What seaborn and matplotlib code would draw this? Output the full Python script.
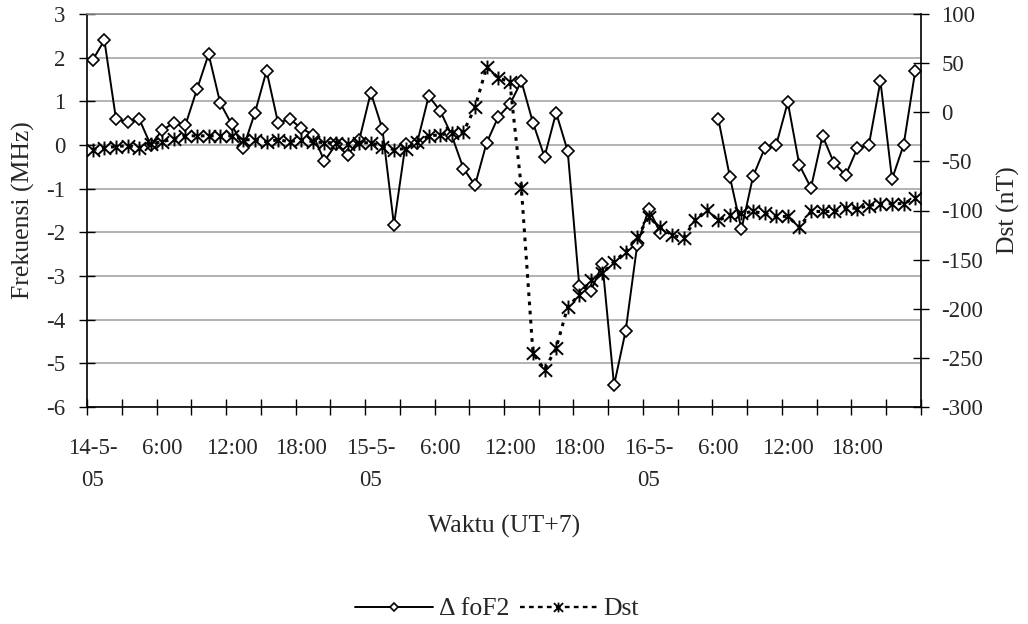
import numpy as np
import pandas as pd
import matplotlib
matplotlib.use("Agg")
import matplotlib.pyplot as plt
from matplotlib.path import Path
from matplotlib.lines import Line2D
import seaborn as sns

# Hourly samples, 14-16 May 2005 (UT+7)
x_labels = ["14-5-\n05", "6:00", "12:00", "18:00",
            "15-5-\n05", "6:00", "12:00", "18:00",
            "16-5-\n05", "6:00", "12:00", "18:00"]

# Deviation of foF2 (MHz); NaN = no sounding
dfof2 = [1.95, 2.40, 0.60, 0.52, 0.60, 0.00, 0.34, 0.51, 0.46, 1.28,
         2.08, 0.96, 0.47, -0.06, 0.74, 1.70, 0.50, 0.60, 0.38, 0.24,
         -0.37, 0.02, -0.23, 0.11, 1.20, 0.37, -1.83, 0.02, 0.05, 1.12,
         0.78, 0.21, -0.54, -0.92, 0.05, 0.64, 0.93, 1.46, 0.51, -0.27,
         0.74, -0.14, -3.23, -3.34, -2.73, -5.50, -4.26, -2.29, -1.46, -2.02,
         np.nan, np.nan, np.nan, np.nan, 0.60, -0.73, -1.93, -0.72, -0.08, 0.00,
         0.98, -0.46, -0.98, 0.21, -0.42, -0.69, -0.08, 0.00, 1.46, -0.78,
         0.00, 1.69]

# Dst index (nT)
dst = [-38, -36, -35, -34, -36, -32, -30, -27, -24, -24,
       -24, -24, -24, -28, -28, -30, -28, -30, -28, -30,
       -31, -31, -32, -31, -31, -35, -38, -37, -30, -24,
       -23, -21, -20, 5, 46, 35, 31, -77, -245, -262,
       -240, -198, -186, -171, -164, -152, -142, -127, -107, -117,
       -125, -128, -110, -99, -110, -105, -103, -101, -103, -106,
       -106, -117, -101, -101, -101, -97, -98, -95, -93, -93,
       -93, -87]

sns.set_style("ticks")
plt.rcParams["font.family"] = ["Liberation Serif", "DejaVu Serif"]
plt.rcParams["axes.unicode_minus"] = False

FS = 16.5      # tick labels
FS_T = 18.5    # axis titles and legend
W, H = 1028, 624
fig = plt.figure(figsize=(W / 100, H / 100), dpi=100)
L, R, T, B = 87, 921, 14, 407
ax = fig.add_axes([L / W, 1 - B / H, (R - L) / W, (B - T) / H])
ax2 = ax.twinx()

jam = np.arange(len(dst))
df = pd.DataFrame({"jam": jam, "dfof2": dfof2, "dst": dst})
df["seg"] = df["dfof2"].isna().cumsum()
fo = df.dropna(subset=["dfof2"])

# asterisk marker: vertical bar plus an X
star = Path([(0, -1), (0, 1), (-0.95, -0.9), (0.95, 0.9), (-0.95, 0.9), (0.95, -0.9)],
            [Path.MOVETO, Path.LINETO] * 3)
dot_style = (0, (1.2, 1.8))

sns.lineplot(data=fo, x="jam", y="dfof2", units="seg", estimator=None, ax=ax,
             color="black", lw=1.4, marker="D", ms=6.6, mfc="white", mec="black",
             mew=1.2, legend=False, zorder=3)
sns.lineplot(data=df, x="jam", y="dst", ax=ax2, color="black", lw=2.2,
             linestyle=dot_style, marker=star, ms=10, mec="black", mew=1.4,
             legend=False, zorder=3)

# axes ranges and ticks
ax.set_xlim(-0.5, len(dst) - 0.5)
ax.set_ylim(-6, 3)
ax2.set_ylim(-300, 100)
ax.set_yticks(np.arange(-6, 4, 1))
ax2.set_yticks(np.arange(-300, 101, 50))
ax.set_xticks(np.arange(-0.5, len(dst), 3))
ax.set_xticklabels([])
ax.set_xticks(np.arange(0, len(dst), 6), minor=True)
ax.set_xticklabels(x_labels, minor=True)
for lbl in ax.get_xticklabels(minor=True):
    lbl.set_linespacing(1.7)

ax.tick_params(axis="x", which="major", direction="inout", length=11, width=1, color="black")
ax.tick_params(axis="x", which="minor", length=0, pad=22, labelsize=FS)
ax.tick_params(axis="y", direction="inout", length=11, width=1, pad=10, labelsize=FS, color="black")
ax2.tick_params(axis="y", direction="inout", length=11, width=1, pad=9, labelsize=FS, color="black")

ax.yaxis.grid(True, color="#a6a6a6", lw=1.2)
ax.xaxis.grid(False)
ax.set_axisbelow(True)

for s in ("left", "bottom"):
    ax.spines[s].set_color("black")
    ax.spines[s].set_linewidth(1.2)
ax.spines["top"].set_color("#8c8c8c")
ax.spines["top"].set_linewidth(1.2)
ax.spines["right"].set_visible(False)
for s in ("left", "bottom", "top"):
    ax2.spines[s].set_visible(False)
ax2.spines["right"].set_color("black")
ax2.spines["right"].set_linewidth(1.2)

# axis titles
ax.set_xlabel("Waktu (UT+7)", fontsize=FS_T)
ax.xaxis.set_label_coords(0.5, (B - 526) / (B - T))
ax.xaxis.label.set_va("center")
ax.set_ylabel("Frekuensi (MHz)", fontsize=FS_T)
ax.yaxis.set_label_coords((23 - L) / (R - L), 0.5)
ax.yaxis.label.set_va("center")
ax2.set_ylabel("Dst (nT)", fontsize=FS_T)
ax2.yaxis.set_label_coords((1008 - L) / (R - L), 0.5)
ax2.yaxis.label.set_va("center")

handles = [
    Line2D([], [], color="black", lw=1.4, marker="D", ms=4.5, mfc="white", mec="black", mew=1.2),
    Line2D([], [], color="black", lw=1.7, linestyle=(0, (2.0, 1.8)), marker=star, ms=7,
           mec="black", mew=1.3),
]
fig.legend(handles, ["\u0394 foF2", "Dst"], loc="center", bbox_to_anchor=(497 / W, 1 - 609 / H),
           ncol=2, frameon=False, handlelength=3.0, handletextpad=0.25, columnspacing=0.4,
           fontsize=FS_T)

fig.savefig("out.png", dpi=100)
